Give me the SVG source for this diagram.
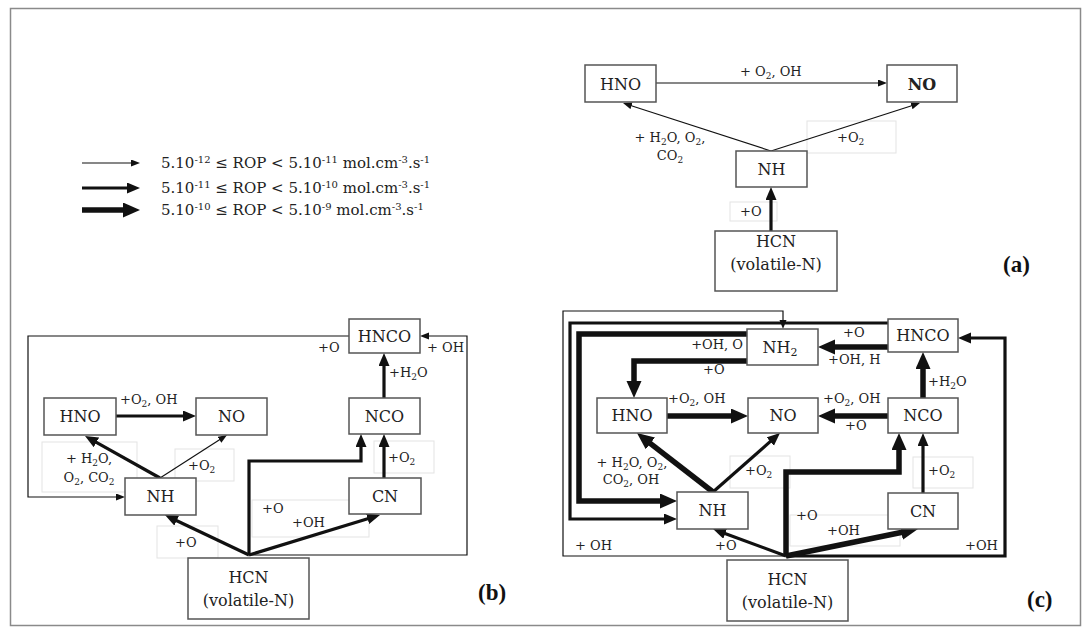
<svg xmlns="http://www.w3.org/2000/svg" width="1091" height="634" viewBox="0 0 1091 634">
<style>
.frame{fill:none;stroke:#8a8a8a;stroke-width:1.5}
.box{fill:#fff;stroke:#555;stroke-width:1.5}
.fb{fill:none;stroke:#e3e3e3;stroke-width:1}
.t,.m,.h{fill:none;stroke:#111;stroke-linejoin:miter}
.t{stroke-width:1.2}
.m{stroke-width:3.2}
.h{stroke-width:5.5}
.n{font-family:"DejaVu Serif","Liberation Serif",serif;font-size:16px;fill:#222;text-anchor:middle}
.l{font-family:"DejaVu Serif","Liberation Serif",serif;font-size:13px;fill:#222}
.lc{text-anchor:middle}
.s{font-size:9px}
.lg{font-family:"DejaVu Serif","Liberation Serif",serif;font-size:15px;fill:#222}
.sp{font-size:10px}
.pl{font-family:"Liberation Serif",serif;font-size:23px;font-weight:bold;fill:#111}
</style>
<defs>
<marker id="mT" markerUnits="userSpaceOnUse" markerWidth="10" markerHeight="8" refX="1" refY="3.5" orient="auto"><path d="M0,0 L9,3.5 L0,7 z" fill="#111"/></marker>
<marker id="mM" markerUnits="userSpaceOnUse" markerWidth="14" markerHeight="12" refX="1" refY="5.5" orient="auto"><path d="M0,0 L13,5.5 L0,11 z" fill="#111"/></marker>
<marker id="mH" markerUnits="userSpaceOnUse" markerWidth="18" markerHeight="16" refX="1" refY="7.5" orient="auto"><path d="M0,0 L17,7.5 L0,15 z" fill="#111"/></marker>
</defs>
<rect x="0" y="0" width="1091" height="634" fill="#fff"/>
<rect class="frame" x="10.5" y="8.5" width="1070" height="617"/>

<!-- faint label boxes -->
<g id="faint">
<rect class="fb" x="807" y="121" width="89" height="32"/>
<rect class="fb" x="730" y="202" width="47" height="19"/>
<rect class="fb" x="42" y="442" width="95" height="50"/>
<rect class="fb" x="175" y="449" width="59" height="32"/>
<rect class="fb" x="374" y="441" width="60" height="32"/>
<rect class="fb" x="157" y="526" width="61" height="32"/>
<rect class="fb" x="252" y="500" width="117" height="37"/>
<rect class="fb" x="730" y="456" width="60" height="32"/>
<rect class="fb" x="913" y="457" width="60" height="31"/>
<rect class="fb" x="790" y="515" width="110" height="31"/>
</g>

<!-- legend -->
<g id="legend">
<path class="t" d="M82,163 H132" marker-end="url(#mT)"/>
<path class="m" d="M82,188 H128" marker-end="url(#mM)"/>
<path class="h" d="M82,210 H124" marker-end="url(#mH)"/>
<text class="lg" x="161" y="168">5.10<tspan class="sp" dy="-5">-12</tspan><tspan dy="5"> ≤ ROP &lt; 5.10</tspan><tspan class="sp" dy="-5">-11</tspan><tspan dy="5"> mol.cm</tspan><tspan class="sp" dy="-5">-3</tspan><tspan dy="5">.s</tspan><tspan class="sp" dy="-5">-1</tspan></text>
<text class="lg" x="161" y="193">5.10<tspan class="sp" dy="-5">-11</tspan><tspan dy="5"> ≤ ROP &lt; 5.10</tspan><tspan class="sp" dy="-5">-10</tspan><tspan dy="5"> mol.cm</tspan><tspan class="sp" dy="-5">-3</tspan><tspan dy="5">.s</tspan><tspan class="sp" dy="-5">-1</tspan></text>
<text class="lg" x="161" y="215">5.10<tspan class="sp" dy="-5">-10</tspan><tspan dy="5"> ≤ ROP &lt; 5.10</tspan><tspan class="sp" dy="-5">-9</tspan><tspan dy="5"> mol.cm</tspan><tspan class="sp" dy="-5">-3</tspan><tspan dy="5">.s</tspan><tspan class="sp" dy="-5">-1</tspan></text>
</g>

<!-- connectors -->
<g id="connectors">
<!-- (a) -->
<path class="t" d="M656,83 H879" marker-end="url(#mT)"/>
<path class="t" d="M771,151 L630.6,105.5" marker-end="url(#mT)"/>
<path class="t" d="M771,151 L912.4,105.5" marker-end="url(#mT)"/>
<path class="m" d="M771,231 V199" marker-end="url(#mM)"/>
<!-- (b) -->
<path class="m" d="M116,416 H184" marker-end="url(#mM)"/>
<path class="m" d="M160,478 L95.5,441.9" marker-end="url(#mM)"/>
<path class="t" d="M160,478 L220.3,439.3" marker-end="url(#mT)"/>
<path class="m" d="M384,398 V365" marker-end="url(#mM)"/>
<path class="m" d="M384,478 V446" marker-end="url(#mM)"/>
<path class="m" d="M249,555 V461 H361 V446" marker-end="url(#mM)"/>
<path class="m" d="M249,555 L368.5,518.5" marker-end="url(#mM)"/>
<path class="m" d="M249,555 L175.8,520.2" marker-end="url(#mM)"/>
<path class="t" d="M249,555 H467 V336 H428" marker-end="url(#mT)"/>
<path class="t" d="M349,336 H28 V497 H117" marker-end="url(#mT)"/>
<!-- (c) -->
<path class="t" d="M786,556 H563 V311 H783 V321" marker-end="url(#mT)"/>
<path class="m" d="M888,323 H570 V519 H665" marker-end="url(#mM)"/>
<path class="h" d="M747,334 H579 V501 H661" marker-end="url(#mH)"/>
<path class="h" d="M747,361 H634 V382" marker-end="url(#mH)"/>
<path class="h" d="M888,347 H834" marker-end="url(#mH)"/>
<path class="h" d="M667,416 H732" marker-end="url(#mH)"/>
<path class="h" d="M888,416 H834" marker-end="url(#mH)"/>
<path class="h" d="M923,398 V368" marker-end="url(#mH)"/>
<path class="m" d="M923,493 V445" marker-end="url(#mM)"/>
<path class="h" d="M786,556 V472 H899 V449" marker-end="url(#mH)"/>
<path class="h" d="M786,556 L902.3,532.2" marker-end="url(#mH)"/>
<path class="m" d="M786,556 L724.3,533.2" marker-end="url(#mM)"/>
<path class="h" d="M713,492 L649.6,442.8" marker-end="url(#mH)"/>
<path class="m" d="M713,492 L771,440.9" marker-end="url(#mM)"/>
<path class="m" d="M786,556 H1005 V338 H970" marker-end="url(#mM)"/>
</g>

<!-- panel (a) nodes -->
<g id="a-hno"><rect class="box" x="585" y="65" width="71" height="37"/><text class="n" x="620.5" y="89.5">HNO</text></g>
<g id="a-no"><rect class="box" x="887" y="65" width="70" height="37"/><text class="n" x="922" y="89.5" font-weight="bold">NO</text></g>
<g id="a-nh"><rect class="box" x="736" y="151" width="71" height="36"/><text class="n" x="771.5" y="175">NH</text></g>
<g id="a-hcn"><rect class="box" x="715" y="231" width="122" height="60"/><text class="n" x="776" y="247">HCN</text><text class="n" x="776" y="270">(volatile-N)</text></g>
<g id="a-labels">
<text class="l" x="740" y="76">+ O<tspan class="s" dy="3">2</tspan><tspan dy="-3">, OH</tspan></text>
<text class="l lc" x="670" y="142">+ H<tspan class="s" dy="3">2</tspan><tspan dy="-3">O, O</tspan><tspan class="s" dy="3">2</tspan><tspan dy="-3">,</tspan></text>
<text class="l lc" x="670" y="160">CO<tspan class="s" dy="3">2</tspan></text>
<text class="l" x="837" y="142">+O<tspan class="s" dy="3">2</tspan></text>
<text class="l" x="740" y="216">+O</text>
<text class="pl" x="1003" y="272">(a)</text>
</g>

<!-- panel (b) nodes -->
<g id="b-hno"><rect class="box" x="44" y="398" width="72" height="37"/><text class="n" x="80" y="422">HNO</text></g>
<g id="b-no"><rect class="box" x="196" y="398" width="71" height="37"/><text class="n" x="231.5" y="422">NO</text></g>
<g id="b-nh"><rect class="box" x="125" y="478" width="71" height="37"/><text class="n" x="160.5" y="502">NH</text></g>
<g id="b-hnco"><rect class="box" x="349" y="319" width="71" height="34"/><text class="n" x="384.5" y="342">HNCO</text></g>
<g id="b-nco"><rect class="box" x="349" y="398" width="71" height="36"/><text class="n" x="384.5" y="422">NCO</text></g>
<g id="b-cn"><rect class="box" x="349" y="478" width="72" height="36"/><text class="n" x="385" y="502">CN</text></g>
<g id="b-hcn"><rect class="box" x="188" y="558" width="121" height="61"/><text class="n" x="248.5" y="583">HCN</text><text class="n" x="248.5" y="606">(volatile-N)</text></g>
<g id="b-labels">
<text class="l" x="120" y="404">+O<tspan class="s" dy="3">2</tspan><tspan dy="-3">, OH</tspan></text>
<text class="l lc" x="89" y="463">+ H<tspan class="s" dy="3">2</tspan><tspan dy="-3">O,</tspan></text>
<text class="l lc" x="89" y="482">O<tspan class="s" dy="3">2</tspan><tspan dy="-3">, CO</tspan><tspan class="s" dy="3">2</tspan></text>
<text class="l" x="188" y="470">+O<tspan class="s" dy="3">2</tspan></text>
<text class="l" x="318" y="352">+O</text>
<text class="l" x="427" y="352">+ OH</text>
<text class="l" x="389" y="377">+H<tspan class="s" dy="3">2</tspan><tspan dy="-3">O</tspan></text>
<text class="l" x="388" y="462">+O<tspan class="s" dy="3">2</tspan></text>
<text class="l" x="262" y="513">+O</text>
<text class="l" x="292" y="527">+OH</text>
<text class="l" x="175" y="547">+O</text>
<text class="pl" x="478" y="600">(b)</text>
</g>

<!-- panel (c) nodes -->
<g id="c-nh2"><rect class="box" x="747" y="329" width="71" height="36"/><text class="n" x="780" y="353">NH<tspan font-size="11" dy="3">2</tspan></text></g>
<g id="c-hnco"><rect class="box" x="888" y="319" width="70" height="33"/><text class="n" x="923" y="341">HNCO</text></g>
<g id="c-hno"><rect class="box" x="597" y="398" width="70" height="35"/><text class="n" x="632" y="421">HNO</text></g>
<g id="c-no"><rect class="box" x="748" y="398" width="70" height="35"/><text class="n" x="783" y="421">NO</text></g>
<g id="c-nco"><rect class="box" x="888" y="398" width="70" height="35"/><text class="n" x="923" y="421">NCO</text></g>
<g id="c-nh"><rect class="box" x="677" y="492" width="71" height="37"/><text class="n" x="712.5" y="516">NH</text></g>
<g id="c-cn"><rect class="box" x="888" y="493" width="70" height="36"/><text class="n" x="923" y="517">CN</text></g>
<g id="c-hcn"><rect class="box" x="727" y="560" width="121" height="61"/><text class="n" x="787.5" y="585">HCN</text><text class="n" x="787.5" y="608">(volatile-N)</text></g>
<g id="c-labels">
<text class="l" x="743" y="349" text-anchor="end">+OH, O</text>
<text class="l" x="703" y="374">+O</text>
<text class="l" x="843" y="337">+O</text>
<text class="l" x="828" y="364">+OH, H</text>
<text class="l" x="928" y="386">+H<tspan class="s" dy="3">2</tspan><tspan dy="-3">O</tspan></text>
<text class="l" x="668" y="403">+O<tspan class="s" dy="3">2</tspan><tspan dy="-3">, OH</tspan></text>
<text class="l" x="823" y="403">+O<tspan class="s" dy="3">2</tspan><tspan dy="-3">, OH</tspan></text>
<text class="l" x="845" y="430">+O</text>
<text class="l lc" x="632" y="467">+ H<tspan class="s" dy="3">2</tspan><tspan dy="-3">O, O</tspan><tspan class="s" dy="3">2</tspan><tspan dy="-3">,</tspan></text>
<text class="l lc" x="631" y="484">CO<tspan class="s" dy="3">2</tspan><tspan dy="-3">, OH</tspan></text>
<text class="l" x="745" y="475">+O<tspan class="s" dy="3">2</tspan></text>
<text class="l" x="928" y="475">+O<tspan class="s" dy="3">2</tspan></text>
<text class="l" x="796" y="520">+O</text>
<text class="l" x="827" y="535">+OH</text>
<text class="l" x="715" y="550">+O</text>
<text class="l" x="575" y="550">+ OH</text>
<text class="l" x="965" y="550">+OH</text>
<text class="pl" x="1027" y="607">(c)</text>
</g>
</svg>
